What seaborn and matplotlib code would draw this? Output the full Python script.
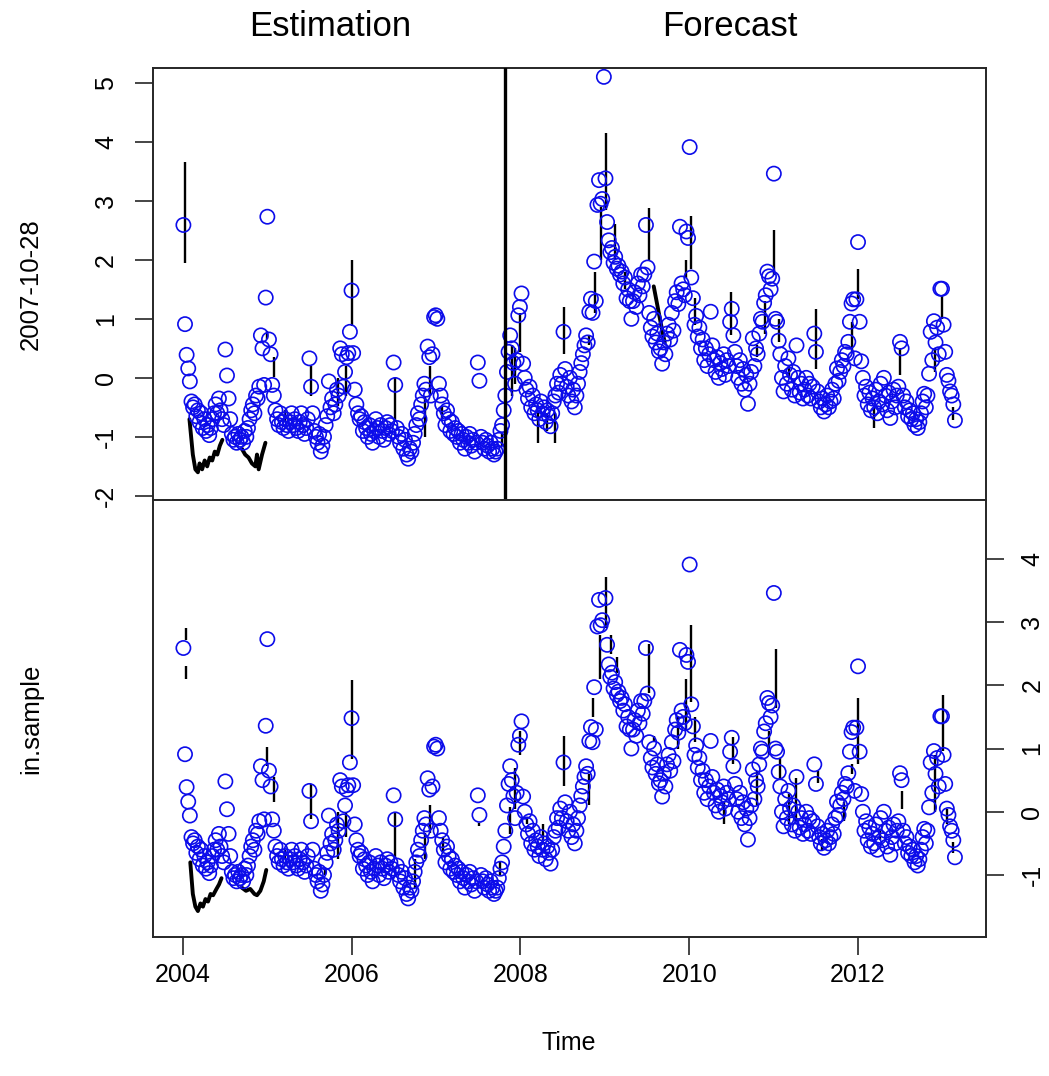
import numpy as np
import pandas as pd
import matplotlib
matplotlib.use("Agg")
import matplotlib.pyplot as plt
import seaborn as sns

# ---------------- data ----------------
obs_2004 = [2.59, 0.91, 0.39, 0.16, -0.06, -0.40, -0.50, -0.45, -0.65, -0.55,
            -0.75, -0.60, -0.85, -0.70, -0.90, -0.80, -0.97, -0.85, -0.70, -0.60,
            -0.45, -0.60, -0.35, -0.55, -0.70, -0.80, 0.48, 0.04, -0.35, -0.70,
            -0.95, -1.05, -1.00, -1.10, -0.95, -1.05, -1.00, -1.10, -0.90, -1.00,
            -0.85, -0.70, -0.55, -0.45, -0.60, -0.30, -0.35, -0.15, 0.72, 0.50,
            -0.12, 1.36]
obs_2005 = [2.73, 0.65, 0.40, -0.12, -0.30, -0.55, -0.70, -0.80, -0.60, -0.75,
            -0.85, -0.70, -0.80, -0.90, -0.75, -0.60, -0.80, -0.70, -0.85, -0.90,
            -0.75, -0.60, -0.80, -0.95, -0.85, -0.70, 0.33, -0.15, -0.60, -0.90,
            -1.00, -1.10, -0.95, -1.25, -1.15, -1.00, -0.80, -0.65, -0.06, -0.50,
            -0.35, -0.60, -0.45, -0.20, -0.30, 0.50, 0.40, -0.15, 0.10, 0.35,
            0.42, 0.78]
obs_2006 = [1.48, 0.42, -0.20, -0.45, -0.60, -0.70, -0.65, -0.90, -0.75, -0.85,
            -1.00, -0.80, -0.95, -1.10, -0.90, -0.70, -0.85, -1.00, -0.80, -0.90,
            -1.05, -0.85, -0.75, -0.95, -0.80, -0.90, 0.26, -0.12, -0.85, -1.00,
            -1.10, -0.95, -1.20, -1.05, -1.30, -1.37, -1.20, -1.25, -1.10, -0.95,
            -0.80, -0.60, -0.70, -0.45, -0.30, -0.10, -0.20, 0.53, 0.35, -0.30,
            0.40, 1.03]
obs_2007 = [1.06, 1.00, -0.10, -0.30, -0.45, -0.60, -0.80, -0.55, -0.70, -0.90,
            -0.75, -0.95, -0.85, -1.00, -0.90, -1.10, -0.95, -1.05, -1.20, -1.00,
            -1.10, -0.95, -1.15, -1.05, -1.25, -1.10, 0.26, -0.05, -1.00, -1.10,
            -1.20, -1.05, -1.15, -1.25, -1.10, -1.20, -1.30, -1.25, -1.20, -1.05,
            -0.90, -0.80, -0.55, -0.30, 0.10, 0.44, 0.72, 0.50, 0.25, -0.10,
            0.30, 1.06]
obs_2008 = [1.20, 1.43, 0.24, 0.00, -0.20, -0.35, -0.15, -0.50, -0.30, -0.60,
            -0.45, -0.55, -0.70, -0.40, -0.60, -0.50, -0.75, -0.55, -0.65, -0.82,
            -0.60, -0.40, -0.30, -0.10, -0.25, 0.05, -0.10, 0.78, 0.15, -0.15,
            -0.30, 0.00, -0.40, -0.20, -0.50, -0.30, -0.10, 0.10, 0.25, 0.40,
            0.55, 0.72, 0.60, 1.12, 1.34, 1.10, 1.97, 1.30, 2.93, 3.35,
            2.95, 3.03]
obs_2009 = [5.10, 3.38, 2.64, 2.33, 2.13, 2.20, 1.95, 2.05, 1.85, 1.90,
            1.75, 1.80, 1.60, 1.70, 1.35, 1.50, 1.30, 1.00, 1.30, 1.45,
            1.20, 1.60, 1.40, 1.75, 1.55, 1.75, 2.59, 1.87, 1.10, 0.85,
            0.70, 1.00, 0.60, 0.75, 0.45, 0.50, 0.24, 0.60, 0.40, 0.75,
            0.90, 0.65, 1.10, 0.80, 1.30, 1.45, 1.25, 2.56, 1.60, 1.50,
            1.40, 2.48]
obs_2010 = [2.37, 3.91, 1.70, 1.35, 0.90, 1.05, 0.70, 0.85, 0.50, 0.65,
            0.30, 0.50, 0.20, 0.40, 1.12, 0.55, 0.30, 0.10, 0.35, 0.00,
            0.25, 0.15, 0.40, 0.05, 0.30, 0.20, 0.95, 1.17, 0.72, 0.44,
            0.20, 0.00, 0.30, -0.10, 0.15, -0.20, 0.05, -0.44, -0.10, 0.10,
            0.67, 0.20, 0.50, 0.40, 0.75, 1.00, 0.95, 1.27, 1.40, 1.80,
            1.72, 1.50]
obs_2011 = [1.68, 3.46, 1.00, 0.95, 0.63, 0.40, 0.00, -0.23, 0.20, -0.10,
            0.33, 0.05, -0.20, 0.10, -0.30, 0.55, 0.00, -0.25, -0.10, -0.35,
            -0.20, 0.00, -0.30, -0.10, -0.35, -0.15, 0.75, 0.44, -0.23, -0.40,
            -0.50, -0.35, -0.57, -0.45, -0.30, -0.50, -0.40, -0.20, -0.35, -0.10,
            0.16, -0.05, 0.10, 0.30, 0.20, 0.44, 0.40, 0.61, 0.95, 1.26,
            1.33, 0.33]
obs_2012 = [1.33, 2.30, 0.95, 0.28, 0.00, -0.30, -0.15, -0.45, -0.25, -0.55,
            -0.35, -0.50, -0.20, -0.60, -0.40, -0.10, -0.45, 0.00, -0.30, -0.55,
            -0.25, -0.68, -0.40, -0.20, -0.50, -0.30, -0.15, 0.61, 0.50, -0.30,
            -0.50, -0.40, -0.65, -0.55, -0.70, -0.60, -0.80, -0.70, -0.85, -0.75,
            -0.60, -0.40, -0.27, -0.50, -0.30, 0.07, 0.78, 0.30, 0.96, 0.60,
            0.85, 0.40]
obs_2013 = [1.51, 1.51, 0.90, 0.44, 0.05, -0.05, -0.23, -0.30, -0.45, -0.72]
first_week = "2004-01-04"

# black fitted-line strokes, upper panel (decimal year, low, high)
top_spike_year = [2004.03, 2005.00, 2005.08, 2005.21, 2005.52, 2005.84, 2005.94, 2006.01,
                  2006.52, 2006.87, 2006.93, 2007.07, 2007.78, 2007.90, 2007.94, 2008.00,
                  2008.21, 2008.31, 2008.41, 2008.52, 2008.81, 2008.89, 2008.96, 2009.02,
                  2009.12, 2009.24, 2009.52, 2009.96, 2010.02, 2010.07, 2010.50, 2010.80,
                  2010.90, 2011.00, 2011.06, 2011.18, 2011.50, 2011.93, 2012.00, 2012.19,
                  2012.50, 2012.91, 2012.99, 2013.13]
top_spike_low = [1.95, 0.65, 0.02, -0.75, -0.30, -0.47, -0.30, 0.88,
                 -0.74, -1.00, -0.30, -0.70, -1.15, -0.30, -0.10, 0.44,
                 -1.10, -0.90, -1.10, 0.40, 0.55, 1.10, 2.00, 2.85,
                 2.00, 1.50, 2.00, 1.70, 1.85, 0.90, 0.72, 0.35,
                 0.75, 1.75, 0.60, 0.00, 0.15, 0.44, 1.33, -0.85,
                 0.05, 0.10, 1.00, -0.72]
top_spike_high = [3.66, 0.80, 0.36, -0.55, 0.20, 0.00, 0.20, 2.00,
                  0.00, -0.30, 0.20, -0.50, -0.95, 0.55, 0.50, 1.10,
                  -0.60, -0.60, -0.60, 1.20, 0.72, 1.80, 2.90, 4.15,
                  2.60, 1.80, 2.88, 2.00, 2.75, 1.35, 1.45, 0.55,
                  1.30, 2.50, 1.00, 0.20, 1.17, 0.95, 1.85, -0.50,
                  0.50, 0.50, 1.40, -0.50]
top_line_a_year = [2004.08, 2004.12, 2004.15, 2004.18, 2004.20, 2004.23, 2004.26,
                   2004.29, 2004.32, 2004.35, 2004.38, 2004.41, 2004.44, 2004.47]
top_line_a_val = [-0.70, -1.30, -1.55, -1.60, -1.45, -1.55, -1.40,
                  -1.50, -1.35, -1.40, -1.25, -1.30, -1.15, -1.05]
top_line_b_year = [2004.70, 2004.74, 2004.78, 2004.82, 2004.86, 2004.88, 2004.90, 2004.94, 2004.98]
top_line_b_val = [-1.20, -1.30, -1.35, -1.45, -1.50, -1.30, -1.55, -1.30, -1.10]
top_line_c_year = [2009.58, 2009.62, 2009.66, 2009.71]
top_line_c_val = [1.55, 1.25, 0.95, 0.60]

# black fitted-line strokes, lower panel
bot_spike_year = [2004.04, 2004.04, 2005.00, 2005.08, 2005.21, 2005.52, 2005.69, 2005.84,
                  2005.94, 2006.01, 2006.52, 2006.75, 2006.87, 2006.93, 2007.08, 2007.51,
                  2007.76, 2007.88, 2007.94, 2008.00, 2008.08, 2008.27, 2008.52, 2008.81,
                  2008.86, 2008.94, 2009.02, 2009.07, 2009.14, 2009.52, 2009.58, 2009.87,
                  2009.96, 2010.02, 2010.07, 2010.41, 2010.52, 2010.80, 2010.94, 2011.03,
                  2011.08, 2011.18, 2011.27, 2011.52, 2011.57, 2011.83, 2011.93, 2012.00,
                  2012.26, 2012.52, 2012.91, 2013.01, 2013.05, 2013.13]
bot_spike_low = [2.72, 2.10, 0.73, 0.15, -0.75, -0.12, -1.00, -0.75,
                 -0.40, 0.84, -0.75, -1.20, -0.75, -0.33, -0.63, -0.22,
                 -1.00, -0.35, 0.05, 0.90, -0.20, -0.45, 0.40, 0.10,
                 1.50, 2.10, 2.90, 2.50, 2.20, 1.88, 1.10, 1.00,
                 1.30, 1.73, 1.10, -0.20, 0.75, 0.10, 0.90, 1.64,
                 0.50, -0.20, -0.15, 0.45, -0.60, -0.15, 0.60, 0.75,
                 -0.45, 0.05, 0.00, 0.96, -0.20, -0.65]
bot_spike_high = [2.90, 2.30, 1.03, 0.55, -0.60, 0.44, -0.90, 0.00,
                  0.00, 2.09, 0.00, -0.75, -0.33, 0.10, -0.40, -0.18,
                  -0.80, 0.08, 0.70, 1.27, -0.10, -0.20, 1.20, 0.60,
                  1.80, 2.80, 3.72, 2.80, 2.45, 2.65, 1.20, 1.50,
                  2.10, 2.96, 1.50, 0.15, 1.18, 0.64, 1.27, 2.57,
                  0.85, 0.28, 0.54, 0.64, -0.43, 0.15, 0.75, 1.80,
                  -0.30, 0.33, 0.90, 1.85, 0.05, -0.48]
bot_line_a_year = [2004.09, 2004.12, 2004.15, 2004.18, 2004.21, 2004.24, 2004.27,
                   2004.30, 2004.33, 2004.36, 2004.40, 2004.43, 2004.46]
bot_line_a_val = [-0.80, -1.30, -1.50, -1.57, -1.45, -1.50, -1.38,
                  -1.42, -1.30, -1.32, -1.22, -1.15, -1.05]
bot_line_b_year = [2004.70, 2004.75, 2004.80, 2004.85, 2004.88, 2004.92, 2004.96, 2004.99]
bot_line_b_val = [-1.20, -1.25, -1.22, -1.30, -1.32, -1.25, -1.10, -0.92]

split_year = 2007.82          # 2007-10-28
x_ticks = [2004, 2006, 2008, 2010, 2012]
top_y_ticks = [-2, -1, 0, 1, 2, 3, 4, 5]
bot_y_ticks = [-1, 0, 1, 2, 3, 4]

# ---------------- build frame ----------------
values = np.concatenate([obs_2004, obs_2005, obs_2006, obs_2007, obs_2008,
                         obs_2009, obs_2010, obs_2011, obs_2012, obs_2013])
dates = pd.date_range(first_week, periods=len(values), freq="W-SUN")
days_in_year = np.where(dates.is_leap_year, 366, 365)
dec_year = dates.year + (dates.dayofyear - 1) / days_in_year
df = pd.DataFrame({"t": dec_year, "v": values})

sns.set_theme(style="white")
plt.rcParams["font.family"] = ["Liberation Sans", "DejaVu Sans"]
plt.rcParams["text.color"] = "black"
plt.rcParams["axes.labelcolor"] = "black"
plt.rcParams["xtick.color"] = "black"
plt.rcParams["ytick.color"] = "black"

fig = plt.figure(figsize=(10.49, 10.76), dpi=100)
ax_top = fig.add_axes([0.1456, 0.5353, 0.7941, 0.4015])
ax_bot = fig.add_axes([0.1456, 0.1292, 0.7941, 0.4061])

blue = "#0c0cea"
frame = "#262626"


def draw_panel(ax, sx, slo, shi, pieces):
    ax.vlines(sx, slo, shi, color="black", lw=1.7, zorder=2)
    for px, py in pieces:
        sns.lineplot(x=px, y=py, ax=ax, color="black", lw=2.8, sort=False,
                     estimator=None, zorder=2)
    sns.scatterplot(data=df, x="t", y="v", ax=ax, marker="o", s=105,
                    facecolor="none", edgecolor=blue, linewidth=1.2, zorder=3)
    ax.set_xlim(2003.645, 2013.513)
    ax.set_xticks(x_ticks)
    for sp in ax.spines.values():
        sp.set_color(frame)
        sp.set_linewidth(1.4)


draw_panel(ax_top, top_spike_year, top_spike_low, top_spike_high,
           [(top_line_a_year, top_line_a_val), (top_line_b_year, top_line_b_val),
            (top_line_c_year, top_line_c_val)])
draw_panel(ax_bot, bot_spike_year, bot_spike_low, bot_spike_high,
           [(bot_line_a_year, bot_line_a_val), (bot_line_b_year, bot_line_b_val)])

ax_top.axvline(split_year, color="black", lw=2.4, zorder=4)

# upper panel axes
ax_top.set_ylim(-2.07, 5.25)
ax_top.set_yticks(top_y_ticks)
ax_top.set_yticklabels([str(v) for v in top_y_ticks], rotation=90, va="center")
ax_top.tick_params(axis="x", bottom=False, labelbottom=False)
ax_top.tick_params(axis="y", left=True, length=13, width=1.2, color=frame,
                   labelsize=18, pad=12)
ax_top.set_xlabel("")
ax_top.set_ylabel("2007-10-28", fontsize=18.5)
ax_top.yaxis.set_label_coords(-0.132, 0.5)

# lower panel axes
ax_bot.set_ylim(-1.98, 4.93)
ax_bot.yaxis.tick_right()
ax_bot.set_yticks(bot_y_ticks)
ax_bot.set_yticklabels([str(v) for v in bot_y_ticks], rotation=90, va="center")
ax_bot.tick_params(axis="y", right=True, left=False, length=13, width=1.2,
                   color=frame, labelsize=18, pad=12)
ax_bot.tick_params(axis="x", bottom=True, length=13, width=1.2, color=frame,
                   labelsize=18, pad=6)
ax_bot.set_xticklabels([str(v) for v in x_ticks])
ax_bot.set_xlabel("Time", fontsize=18)
ax_bot.xaxis.set_label_coords(0.5, -0.215)
ax_bot.set_ylabel("in.sample", fontsize=18.5)
ax_bot.yaxis.set_label_position("left")
ax_bot.yaxis.set_label_coords(-0.132, 0.5)

fig.text(330 / 1049, 1 - 27 / 1076, "Estimation", ha="center", va="center", fontsize=25)
fig.text(730 / 1049, 1 - 27 / 1076, "Forecast", ha="center", va="center", fontsize=25)

fig.savefig("out.png", dpi=100)
